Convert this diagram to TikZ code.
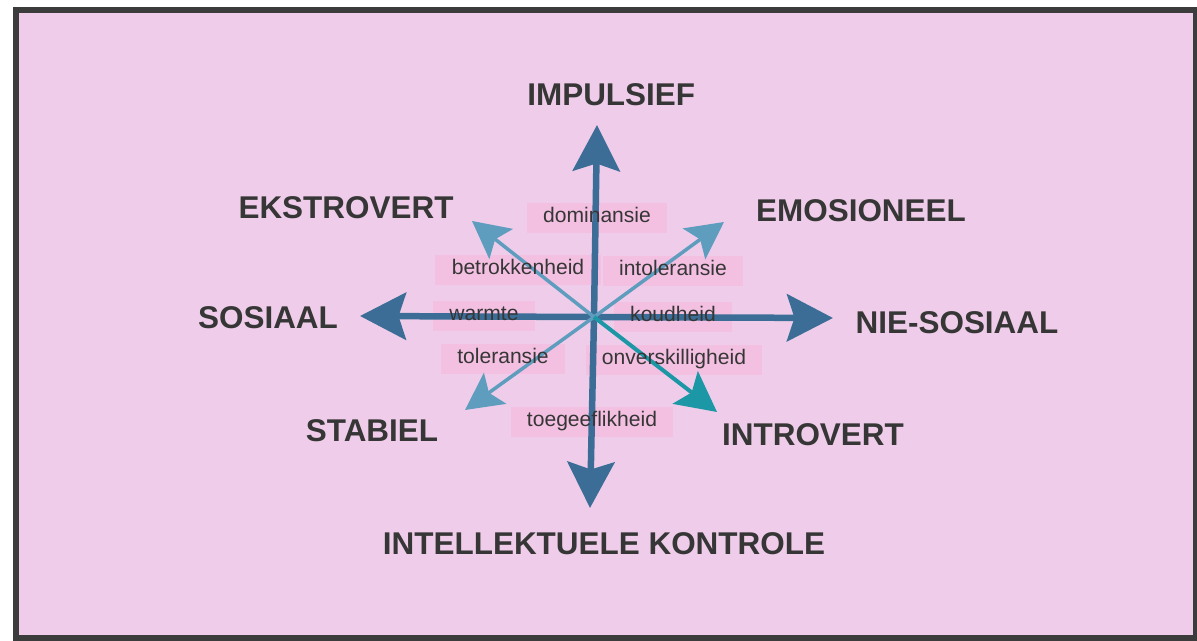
\documentclass[tikz,border=0pt]{standalone}
\usepackage{fontspec}
\setmainfont{Liberation Sans}
\usetikzlibrary{arrows.meta,backgrounds}

\definecolor{paperpink}{HTML}{EFCDEA}
\definecolor{bandpink}{HTML}{F4C0E2}
\definecolor{framegray}{HTML}{3C3C3C}
\definecolor{axisblue}{HTML}{3B6D96}
\definecolor{diagblue}{HTML}{5E9DBE}
\definecolor{diagteal}{HTML}{1C97A6}
\definecolor{inkgray}{HTML}{363636}

\begin{document}
\begin{tikzpicture}[x=0.02cm,y=-0.02cm,
  pole/.style={font=\bfseries\fontsize{17.9}{20}\selectfont,text=inkgray,inner sep=0pt},
  trait/.style={font=\fontsize{12}{14}\selectfont,text=inkgray,anchor=base,
    inner xsep=0.32cm,inner ysep=0.09cm,text height=0.3cm,text depth=0.1cm},
  axis/.style={draw=axisblue,line width=0.13cm,
    -{Stealth[length=0.92cm,width=0.94cm,inset=0.15cm]}},
  diag/.style={draw=diagblue,line width=0.07cm,
    -{Stealth[length=0.74cm,width=0.76cm,inset=0.15cm]}}]
\useasboundingbox (0,0) rectangle (1197,641);

% centre and arrow ends
\coordinate (c) at (594,317);
\coordinate (up) at (597,125);
\coordinate (down) at (590,508);
\coordinate (left) at (360,316);
\coordinate (right) at (833,318);
\coordinate (ul) at (472,221);
\coordinate (ur) at (724,222);
\coordinate (dl) at (465,410);
\coordinate (dr) at (717,412);

\draw[axis] (c) -- (up);
\draw[axis] (c) -- (down);
\draw[axis] (c) -- (left);
\draw[axis] (c) -- (right);
\draw[diag] (c) -- (ul);
\draw[diag] (c) -- (ur);
\draw[diag] (c) -- (dl);
\draw[diag,draw=diagteal,line width=0.08cm,
  -{Stealth[length=0.8cm,width=0.82cm,inset=0.16cm]}] (c) -- (dr);

% poles
\node[pole,anchor=west] (impulsief) at (527,95) {IMPULSIEF};
\node[pole] (ekstrovert) at (346,208) {EKSTROVERT};
\node[pole] (emosioneel) at (861,211) {EMOSIONEEL};
\node[pole] (sosiaal) at (268,318) {SOSIAAL};
\node[pole] (niesosiaal) at (957,323) {NIE-SOSIAAL};
\node[pole] (stabiel) at (372,431) {STABIEL};
\node[pole] (introvert) at (813,435) {INTROVERT};
\node[pole] (kontrole) at (604,544) {INTELLEKTUELE KONTROLE};

% traits
\node[trait] (dominansie) at (597,223) {dominansie};
\node[trait] (betrokkenheid) at (518,275) {betrokkenheid};
\node[trait] (intoleransie) at (673,276) {intoleransie};
\node[trait] (warmte) at (484,321) {warmte};
\node[trait] (koudheid) at (673,322) {koudheid};
\node[trait] (toleransie) at (503,364) {toleransie};
\node[trait] (onverskilligheid) at (674,365) {onverskilligheid};
\node[trait] (toegeeflikheid) at (592,427) {toegeeflikheid};

\begin{scope}[on background layer]
\fill[white] (0,0) rectangle (1197,641);
\draw[framegray,fill=paperpink,line width=0.13cm] (16,10) rectangle (1196,638);
\foreach \n in {dominansie,betrokkenheid,intoleransie,warmte,koudheid,
    toleransie,onverskilligheid,toegeeflikheid}
  \fill[bandpink] (\n.south west) rectangle (\n.north east);
\end{scope}
\end{tikzpicture}
\end{document}
